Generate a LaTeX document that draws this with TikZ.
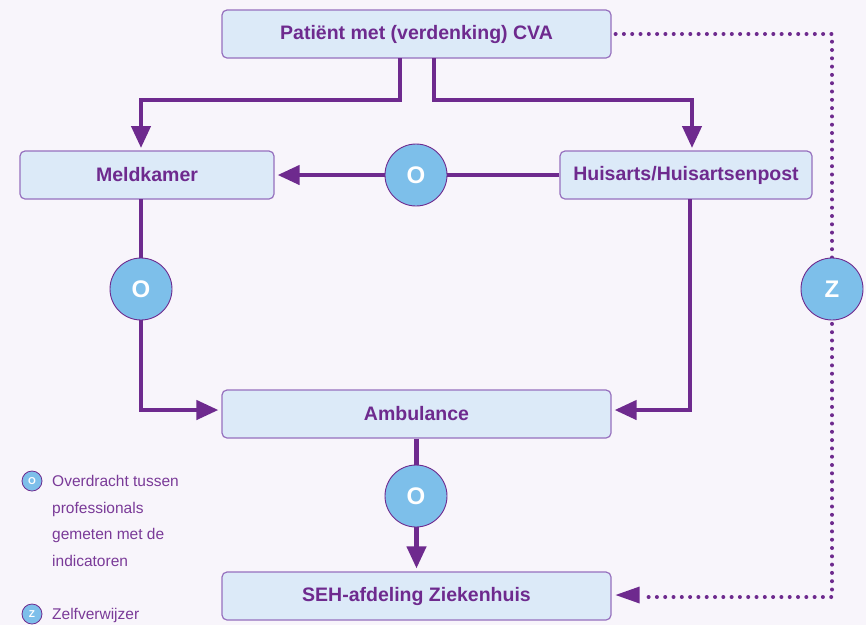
\documentclass[tikz,border=0pt]{standalone}
\usepackage{fontspec}
\setmainfont{Liberation Sans}
\usetikzlibrary{arrows.meta}
\definecolor{bg}{HTML}{F8F5FB}
\definecolor{pur}{HTML}{6E2A8E}
\definecolor{boxfill}{HTML}{DCEAF8}
\definecolor{boxdraw}{HTML}{9670BE}
\definecolor{circfill}{HTML}{7DBFEA}
\definecolor{legtext}{HTML}{7A3A98}
\begin{document}
\begin{tikzpicture}[x=1pt,y=-1pt,
  stepbox/.style={draw=boxdraw, line width=1.2pt, fill=boxfill, rounded corners=5pt, minimum height=48pt, text=pur, font=\fontsize{19.5}{22}\selectfont\bfseries, inner sep=0pt},
  hand/.style={circle, draw=pur, line width=0.9pt, fill=circfill, minimum size=62pt, inner sep=0pt, text=white, font=\fontsize{24}{28}\selectfont\bfseries},
  legc/.style={circle, draw=pur, line width=0.8pt, fill=circfill, minimum size=20pt, inner sep=0pt, text=white, font=\fontsize{10}{12}\selectfont\bfseries},
  legt/.style={anchor=north west, text=legtext, align=left, inner sep=0pt, font=\fontsize{15.5}{26.5}\selectfont},
  conn/.style={draw=pur, line width=4.3pt},
  arr/.style={conn, -{Triangle[length=22pt,width=19pt]}, shorten >=3pt},
  dotline/.style={draw=pur, line width=4pt, line cap=round, dash pattern=on 0pt off 8.3pt}
]
\fill[bg] (0,0) rectangle (866,625);
\useasboundingbox (0,0) rectangle (866,625);

\node[stepbox, minimum width=389pt] (pat) at (416.5,34) {Patiënt met (verdenking) CVA};
\node[stepbox, minimum width=254pt] (meld) at (147,175) {Meldkamer};
\node[stepbox, minimum width=252pt] (huis) at (686,175) {Huisarts/Huisartsenpost};
\node[stepbox, minimum width=389pt] (amb) at (416.5,414) {Ambulance};
\node[stepbox, minimum width=389pt] (seh) at (416.5,596) {SEH-afdeling Ziekenhuis};

\coordinate (p1) at (400,58);
\coordinate (p2) at (434,58);
\coordinate (mt) at (141,151);
\coordinate (ht) at (692,151);
\coordinate (mb) at (141,199);
\coordinate (hb) at (690,199);

% Patient -> Meldkamer / Huisarts
\draw[arr] (p1) -- (400,100) -- (141,100) -- (mt);
\draw[arr] (p2) -- (434,100) -- (692,100) -- (ht);

% Huisarts -> Meldkamer
\draw[arr] (huis.west) -- (meld.east);
% Meldkamer -> Ambulance
\draw[arr] (mb) -- (141,410) -- (amb.west |- 0,410);
% Huisarts -> Ambulance
\draw[arr] (hb) -- (690,410) -- (amb.east |- 0,410);
% Ambulance -> SEH
\draw[arr] (amb.south) -- (seh.north);
% Dotted Patient -> SEH
\draw[dotline] (pat.east) ++(4,0) -- (832,34) -- (832,597) -- (644,597);
\coordinate (sehr) at (seh.east);
\fill[pur] ([xshift=4pt,yshift=1pt]sehr) -- ++(24,-8.5) -- ++(0,17) -- cycle;

% Handover circles
\node[hand] (o1) at (416,175) {O};
\node[hand] (o2) at (141,289) {O};
\node[hand] (z1) at (832,289) {Z};
\node[hand] (o3) at (416,496) {O};

% Legend
\node[legc] (lo) at (32,481) {O};
\node[legt] (lot) at (52,475.5) {Overdracht tussen\\professionals\\gemeten met de\\indicatoren};
\node[legc] (lz) at (32,614) {Z};
\node[legt] (lzt) at (52,608) {Zelfverwijzer};
\end{tikzpicture}
\end{document}
